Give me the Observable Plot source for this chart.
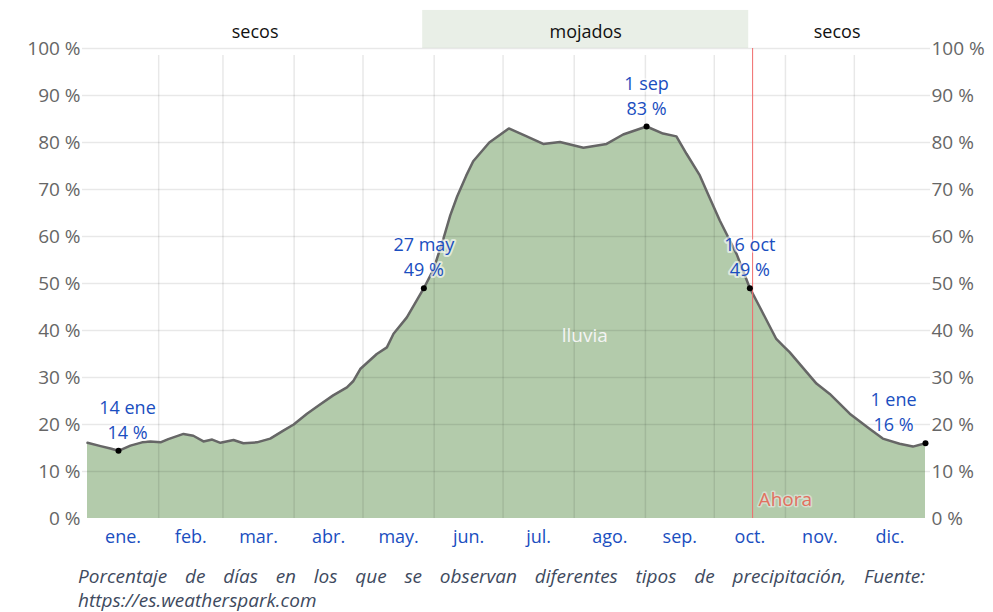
<!DOCTYPE html>
<html>
<head>
<meta charset="utf-8">
<script src="https://cdn.jsdelivr.net/npm/d3@7"></script>
<script src="https://cdn.jsdelivr.net/npm/@observablehq/plot@0.6"></script>
<style>
  body { margin: 0; background: white; }
  #caption {
    margin-left: 78px; width: 847px; padding-top: 14px;
    font-family: "Open Sans", sans-serif; font-style: italic; font-size: 19px;
    line-height: 24px; color: #3e4a5e; text-align: justify;
  }
</style>
</head>
<body>
<div id="chart"></div>
<div id="caption">Porcentaje de días en los que se observan diferentes tipos de precipitación, Fuente: https://es.weatherspark.com</div>
<script>
// ---- data ----
const months = ["ene.", "feb.", "mar.", "abr.", "may.", "jun.", "jul.", "ago.", "sep.", "oct.", "nov.", "dic."];
const monthLengths = [31, 28, 31, 30, 31, 30, 31, 31, 30, 31, 30, 31];

// day of year (0 = start of 1 Jan) and percentage of days with rain
const days = [0, 5.7, 10, 13.5, 18.7, 23.8, 27.4, 31.8, 35.2, 41.8, 46.1, 50.5, 54.3, 57.9, 63.6, 67.9, 73.8, 79.6, 85.3, 89.8, 95.6, 100.5, 107, 113, 115.7, 118.8, 126, 130.4, 133.3, 139.1, 146.5, 150.7, 155, 158, 161, 165, 168, 175, 183.5, 191.3, 198.5, 205.8, 216, 226.1, 233.3, 243.5, 250.7, 256.5, 260.9, 266.7, 270.2, 275.4, 282.7, 288.5, 292.8, 300, 302.9, 305.8, 317.5, 323.3, 332, 340.6, 346.4, 353.7, 359.5, 365];
const rain = [16.1, 15.4, 14.9, 14.4, 15.5, 16.2, 16.4, 16.2, 16.9, 18.0, 17.6, 16.4, 16.8, 16.1, 16.7, 16.0, 16.2, 17.0, 18.7, 20.0, 22.3, 24.0, 26.2, 27.9, 29.2, 31.8, 35.0, 36.4, 39.3, 42.8, 49.0, 53.0, 59.5, 64.5, 68.5, 73.0, 76.0, 80.0, 83.0, 81.3, 79.7, 80.1, 78.9, 79.7, 81.7, 83.4, 81.9, 81.3, 77.6, 73.0, 69.1, 63.4, 56.3, 49.0, 45.0, 38.2, 36.8, 35.4, 28.7, 26.5, 22.3, 19.1, 17.0, 15.9, 15.3, 16.0];

const annDays = [13.5, 146.5, 243.5, 288.5, 365];
const annValues = [14.4, 49.0, 83.4, 49.0, 16.0];
const annLabels = ["14 ene\n14 %", "27 may\n49 %", "1 sep\n83 %", "16 oct\n49 %", "1 ene\n16 %"];

const seasonStarts = [0, 146, 288];
const seasonEnds = [146, 288, 365];
const seasonLabels = ["secos", "mojados", "secos"];
const seasonWet = [false, true, false];

const yTicks = [0, 10, 20, 30, 40, 50, 60, 70, 80, 90, 100];
const today = 289.7;

// ---- derived tables ----
const series = days.map((d, i) => ({day: d, value: rain[i]}));
const ann = annDays.map((d, i) => ({day: d, value: annValues[i], label: annLabels[i]}));
const seasons = seasonStarts.map((s, i) => ({start: s, end: seasonEnds[i], label: seasonLabels[i], wet: seasonWet[i]}));
const cum = d3.cumsum(monthLengths);
const boundaries = Array.from(cum).slice(0, 11);
const monthMids = months.map((m, i) => ({label: m, mid: (i === 0 ? 0 : cum[i - 1]) + monthLengths[i] / 2}));

const blue = "#1a4ec0";
const grid = {stroke: "#000", strokeOpacity: 0.09, strokeWidth: 1.5};
const annStyle = {x: "day", y: "value", text: "label", lineAnchor: "bottom", dy: -12, lineHeight: 1.38, fontSize: 18, fill: blue, stroke: "white", strokeWidth: 4, strokeOpacity: 0.6};

const chart = Plot.plot({
  width: 993, height: 550,
  marginLeft: 87, marginRight: 68, marginTop: 48, marginBottom: 32,
  x: {domain: [0, 365], axis: null},
  y: {domain: [0, 100], axis: null},
  style: {fontFamily: "'Open Sans', sans-serif", background: "white", overflow: "visible"},
  marks: [
    Plot.rect(seasons.filter(d => d.wet), {x1: "start", x2: "end", y1: 100, y2: 108.1, fill: "#e9efe7"}),
    Plot.text(seasons, {x: d => (d.start + d.end) / 2, y: 103.4, text: "label", fontSize: 18, fill: "#111"}),
    Plot.areaY(series, {x: "day", y: "value", fill: "#b3cbab"}),
    Plot.ruleY(yTicks.slice(1), {...grid, insetLeft: -5, insetRight: -5}),
    Plot.ruleX(boundaries, {...grid, y1: 0, y2: 100, insetBottom: -7}),
    Plot.lineY(series, {x: "day", y: "value", stroke: "#666", strokeWidth: 2.5}),
    Plot.ruleX([today], {y1: 0, y2: 100, stroke: "#f06a6a", strokeWidth: 1}),
    Plot.dot(ann, {x: "day", y: "value", r: 3, fill: "black"}),
    Plot.text(ann.slice(1, 4), annStyle),
    Plot.text(ann.slice(0, 1), {...annStyle, dx: 9}),
    Plot.text(ann.slice(4), {...annStyle, dx: -32}),
    Plot.text(monthMids, {x: "mid", y: 0, dy: 19, text: "label", fontSize: 18, fill: blue}),
    Plot.text(yTicks, {x: 0, y: d => d, dx: -7, textAnchor: "end", text: d => d + " %", fontSize: 19, fill: "#666"}),
    Plot.text(yTicks, {x: 365, y: d => d, dx: 6, textAnchor: "start", text: d => d + " %", fontSize: 19, fill: "#666"}),
    Plot.text(["lluvia"], {x: 216.6, y: 38.9, text: d => d, fontSize: 19, fill: "#f4f4f4"}),
    Plot.text(["Ahora"], {x: today, y: 4, dx: 6, textAnchor: "start", text: d => d, fontSize: 19, fill: "#e2705f", stroke: "#f2f2f2", strokeWidth: 3, strokeOpacity: 0.5})
  ]
});
document.getElementById("chart").append(chart);
</script>
</body>
</html>
